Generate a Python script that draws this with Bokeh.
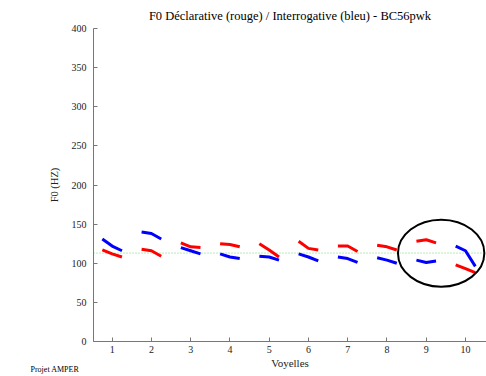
from bokeh.plotting import figure
from bokeh.models import Range1d, Label, FixedTicker
from bokeh.embed import file_html
from bokeh.resources import INLINE

# ---- data ----
vowels = [1, 2, 3, 4, 5, 6, 7, 8, 9, 10]
vowel_labels = ["1", "2", "3", "4", "5", "6", "7", "8", "9", "10"]
decl_f0 = [  # red (déclarative), 3 samples per vowel
    [117, 112, 108], [118, 116, 109], [126, 121, 120], [125, 124, 121], [125, 117, 108],
    [128, 119, 117], [122, 122, 115], [123, 121, 117], [128, 130, 126], [98, 93, 88],
]
inter_f0 = [  # blue (interrogative)
    [131, 122, 116], [140, 138, 131], [120, 116, 112], [112, 108, 106], [109, 108, 104],
    [112, 108, 103], [108, 106, 101], [107, 104, 100], [104, 101, 103], [122, 116, 96],
]
sample_offsets = [-0.25, 0.0, 0.25]
mean_f0 = 113
y_ticks = [0, 50, 100, 150, 200, 250, 300, 350, 400]
highlight_center = (9.38, 112.8)
highlight_size = (2.2, 85.5)
title_text = "F0 Déclarative (rouge) / Interrogative (bleu) - BC56pwk"
credit_text = "Projet AMPER"

# axis extents (data units) and layout in pixels
X_LO, X_HI = 0.525, 10.535
Y_LO, Y_HI = 0, 400
W, H = 486, 376
AXIS_LEFT_PX, AXIS_BOTTOM_PX, TOP_PX = 93, 35, 28

SERIF = "Liberation Serif"

ppx = (W - AXIS_LEFT_PX) / (X_HI - X_LO)
ppy = (H - AXIS_BOTTOM_PX - TOP_PX) / (Y_HI - Y_LO)

p = figure(width=W, height=H, frame_width=W, frame_height=H,
           min_border_left=0, min_border_right=0, min_border_top=0, min_border_bottom=0,
           x_range=Range1d(X_LO - AXIS_LEFT_PX / ppx, X_HI),
           y_range=Range1d(Y_LO - AXIS_BOTTOM_PX / ppy, Y_HI + TOP_PX / ppy),
           output_backend="svg", toolbar_location=None)

p.outline_line_color = None
p.xgrid.grid_line_color = None
p.ygrid.grid_line_color = None
p.background_fill_color = "white"
p.border_fill_color = "white"

# mean line
p.line(x=[X_LO, X_HI], y=[mean_f0, mean_f0], line_color="#66dd66",
       line_dash="1 2", line_width=1)

xs = [[v + o for o in sample_offsets] for v in vowels]
p.multi_line(xs=xs, ys=decl_f0, line_color="#ff0000", line_width=3)
p.multi_line(xs=xs, ys=inter_f0, line_color="#0000ff", line_width=3)

p.ellipse(x=[highlight_center[0]], y=[highlight_center[1]],
          width=[highlight_size[0]], height=[highlight_size[1]],
          fill_alpha=0, line_color="black", line_width=2)

for ax in (p.xaxis[0], p.yaxis[0]):
    ax.axis_line_color = "#777777"
    ax.major_tick_line_color = "#777777"
    ax.major_tick_in = 4
    ax.major_tick_out = 0
    ax.minor_tick_line_color = None
    ax.major_label_text_font = SERIF
    ax.major_label_text_font_size = "10px"
    ax.major_label_text_color = "#222222"
    ax.axis_label_text_font = SERIF
    ax.axis_label_text_font_style = "normal"
    ax.axis_label_text_color = "#222222"

p.xaxis.fixed_location = Y_LO
p.xaxis.bounds = (X_LO, X_HI)
p.xaxis.ticker = FixedTicker(ticks=vowels)
p.xaxis.major_label_overrides = {v: s for v, s in zip(vowels, vowel_labels)}
p.xaxis.axis_label = "Voyelles"
p.xaxis.axis_label_text_font_size = "11px"
p.xaxis.major_label_standoff = 4
p.xaxis.axis_label_standoff = 1

p.yaxis.fixed_location = X_LO
p.yaxis.bounds = (Y_LO, Y_HI)
p.yaxis.ticker = FixedTicker(ticks=y_ticks)
p.yaxis.axis_label = "F0 (HZ)"
p.yaxis.axis_label_text_font_size = "10.5px"
p.yaxis.major_label_standoff = 7
p.yaxis.axis_label_standoff = 9

# title (centred over the plotting area)
p.add_layout(Label(x=AXIS_LEFT_PX + (W - AXIS_LEFT_PX) / 2, y=H - 15,
                   x_units="screen", y_units="screen",
                   text=title_text, text_font=SERIF, text_font_size="12.5px",
                   text_align="center", text_baseline="middle", text_color="#000000"))

p.add_layout(Label(x=30, y=7, x_units="screen", y_units="screen",
                   text=credit_text, text_font=SERIF, text_font_size="8px",
                   text_baseline="middle", text_color="#000000"))

open("out.html", "w").write(file_html(p, INLINE))
